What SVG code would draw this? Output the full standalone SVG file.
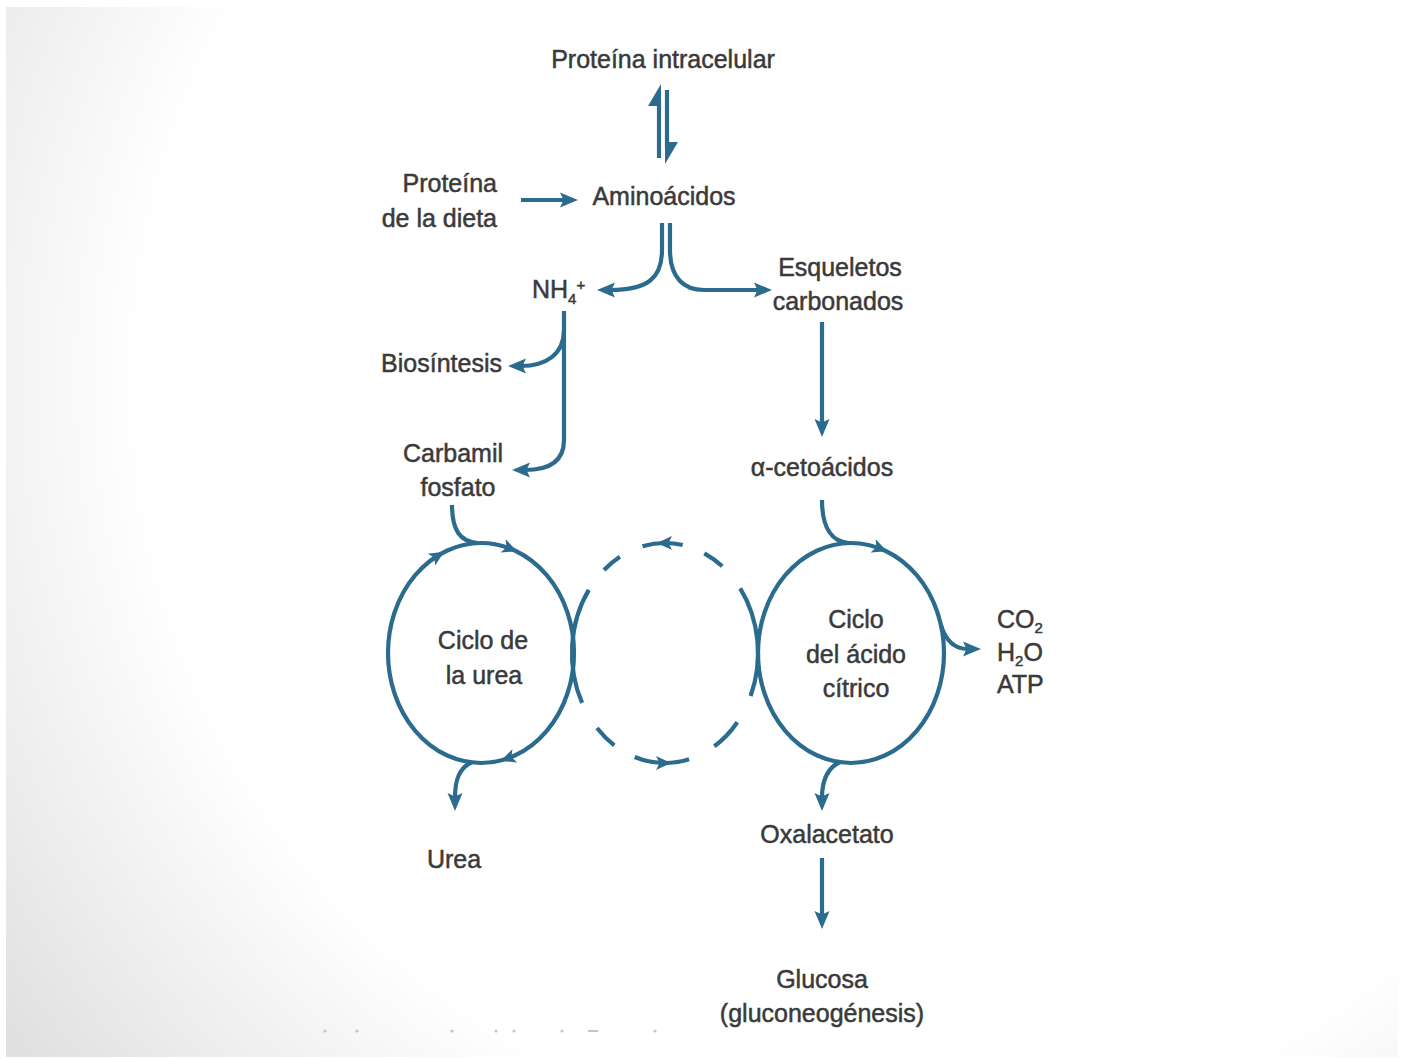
<svg xmlns="http://www.w3.org/2000/svg" xmlns:xlink="http://www.w3.org/1999/xlink" width="1403" height="1059" viewBox="0 0 1403 1059">
  <defs>
    <radialGradient id="slideShade" gradientUnits="userSpaceOnUse" cx="900" cy="380" r="1150">
      <stop offset="0" stop-color="#ffffff"/>
      <stop offset="0.66" stop-color="#ffffff"/>
      <stop offset="1" stop-color="#dcdcdc"/>
    </radialGradient>
    <marker id="head" markerUnits="userSpaceOnUse" viewBox="0 0 18 16" markerWidth="18" markerHeight="16" refX="5" refY="8" orient="auto">
      <path d="M0,0.5 L18,8 L0,15.5 L3.5,8 z" fill="#2a6b8e"/>
    </marker>
    <path id="chev" d="M8,0 L-7,-7 L-3.5,0 L-7,7 z" fill="#2a6b8e"/>
    <style>
      .lbl { font-family: "Liberation Sans", Arial, sans-serif; font-size: 25px; fill: #3a3a3a; stroke: #3a3a3a; stroke-width: 0.5px; }
      .mid { text-anchor: middle; }
      .end { text-anchor: end; }
      .ln { fill: none; stroke: #2a6b8e; stroke-width: 4.2; stroke-linecap: butt; }
      .arw { marker-end: url(#head); }
      .cyc { fill: none; stroke: #2a6b8e; stroke-width: 4.2; }
      .speck { fill: #c4c4c4; }
    </style>
  </defs>

  <!-- slide background with soft edge shading -->
  <rect x="0" y="0" width="1403" height="1059" fill="#ffffff"/>
  <rect x="6" y="7" width="1392" height="1050" fill="url(#slideShade)"/>

  <!-- connectors -->
  <g id="connectors">
    <!-- reversible protein <-> amino acids -->
    <path class="ln" d="M659,100 L659,158"/>
    <polygon points="661,84 661,106 648,106" fill="#2a6b8e"/>
    <path class="ln" d="M667,90 L667,148"/>
    <polygon points="665,164 665,142 678,142" fill="#2a6b8e"/>

    <path class="ln arw" d="M521,200 L565,200"/>
    <path class="ln arw" d="M662,223 L662,250 C662,278 648,290 610,290"/>
    <path class="ln arw" d="M670,223 L670,250 C670,278 684,290 704,290 L759,290"/>
    <path class="ln arw" d="M564,330 C564,355 545,366 521,366"/>
    <path class="ln arw" d="M564,311 L564,440 C564,462 548,470 525,470"/>
    <path class="ln arw" d="M822,322 L822,424"/>
    <path class="ln" d="M822,500 C822,528 832,542 849,543"/>
    <path class="ln" d="M452,505 C452,530 460,542 478,543"/>
    <path class="ln arw" d="M472,762 C459,768 455,780 455,798"/>
    <path class="ln arw" d="M840,762 C827,768 822,780 822,798"/>
    <path class="ln arw" d="M941,625 C946,642 955,649 968,649"/>
    <path class="ln arw" d="M822,858 L822,916"/>
  </g>

  <!-- urea cycle -->
  <g id="urea-cycle">
    <ellipse class="cyc" cx="481" cy="653" rx="93" ry="110"/>
    <use xlink:href="#chev" transform="translate(437.4,555.9) rotate(-32)"/>
    <use xlink:href="#chev" transform="translate(509.7,548.4) rotate(21)"/>
    <use xlink:href="#chev" transform="translate(508.2,758.2) rotate(160)"/>
    <text class="lbl mid" x="483" y="649">Ciclo de</text>
    <text class="lbl mid" x="484" y="684">la urea</text>
  </g>

  <!-- linking cycle (dashed) -->
  <g id="link-cycle">
    <path class="cyc" d="M582.1,702.9 A93,110 0 0 1 588.8,589.9"/>
    <path class="cyc" d="M604.0,570.0 A93,110 0 0 1 619.9,556.8"/>
    <path class="cyc" d="M642.5,546.3 A93,110 0 0 1 682.7,545.0"/>
    <path class="cyc" d="M704.3,553.3 A93,110 0 0 1 722.3,566.3"/>
    <path class="cyc" d="M740.2,588.3 A93,110 0 0 1 750.6,696.0"/>
    <path class="cyc" d="M737.3,722.2 A93,110 0 0 1 714.3,746.3"/>
    <path class="cyc" d="M689.1,759.3 A93,110 0 0 1 634.7,757.0"/>
    <path class="cyc" d="M614.3,745.3 A93,110 0 0 1 597.0,728.0"/>
    <use xlink:href="#chev" transform="translate(665,543) rotate(180)"/>
    <use xlink:href="#chev" transform="translate(663,763) rotate(0)"/>
  </g>

  <!-- citric acid cycle -->
  <g id="citric-cycle">
    <ellipse class="cyc" cx="851" cy="653" rx="93" ry="110"/>
    <use xlink:href="#chev" transform="translate(879.7,548.4) rotate(21)"/>
    <text class="lbl mid" x="856" y="628">Ciclo</text>
    <text class="lbl mid" x="856" y="663">del ácido</text>
    <text class="lbl mid" x="856" y="697">cítrico</text>
  </g>

  <g id="proteina-intracelular"><text class="lbl mid" x="663" y="68">Proteína intracelular</text></g>
  <g id="proteina-dieta">
    <text class="lbl end" x="497" y="192">Proteína</text>
    <text class="lbl end" x="497" y="227">de la dieta</text>
  </g>
  <g id="aminoacidos"><text class="lbl mid" x="664" y="205">Aminoácidos</text></g>
  <g id="nh4"><text class="lbl" x="532" y="298">NH<tspan font-size="15" dy="6">4</tspan><tspan font-size="15" dy="-14">+</tspan></text></g>
  <g id="esqueletos">
    <text class="lbl mid" x="840" y="276">Esqueletos</text>
    <text class="lbl mid" x="838" y="310">carbonados</text>
  </g>
  <g id="biosintesis"><text class="lbl end" x="502" y="372">Biosíntesis</text></g>
  <g id="carbamil">
    <text class="lbl mid" x="453" y="462">Carbamil</text>
    <text class="lbl mid" x="458" y="496">fosfato</text>
  </g>
  <g id="cetoacidos"><text class="lbl mid" x="822" y="476">α-cetoácidos</text></g>
  <g id="productos">
    <text class="lbl" x="997" y="628">CO<tspan font-size="15" dy="5">2</tspan></text>
    <text class="lbl" x="997" y="661">H<tspan font-size="15" dy="5">2</tspan><tspan dy="-5">O</tspan></text>
    <text class="lbl" x="997" y="693">ATP</text>
  </g>
  <g id="urea"><text class="lbl mid" x="454" y="868">Urea</text></g>
  <g id="oxalacetato"><text class="lbl mid" x="827" y="843">Oxalacetato</text></g>
  <g id="glucosa">
    <text class="lbl mid" x="822" y="988">Glucosa</text>
    <text class="lbl mid" x="822" y="1022">(gluconeogénesis)</text>
  </g>

  <!-- faint marks along the bottom -->
  <g id="specks">
    <circle class="speck" cx="325" cy="1031" r="1.6"/>
    <circle class="speck" cx="357" cy="1031" r="1.6"/>
    <circle class="speck" cx="452" cy="1031" r="1.6"/>
    <circle class="speck" cx="496" cy="1031" r="1.6"/>
    <circle class="speck" cx="514" cy="1031" r="1.6"/>
    <circle class="speck" cx="562" cy="1031" r="1.6"/>
    <rect class="speck" x="588" y="1030" width="10" height="2"/>
    <circle class="speck" cx="655" cy="1031" r="1.6"/>
  </g>
</svg>
